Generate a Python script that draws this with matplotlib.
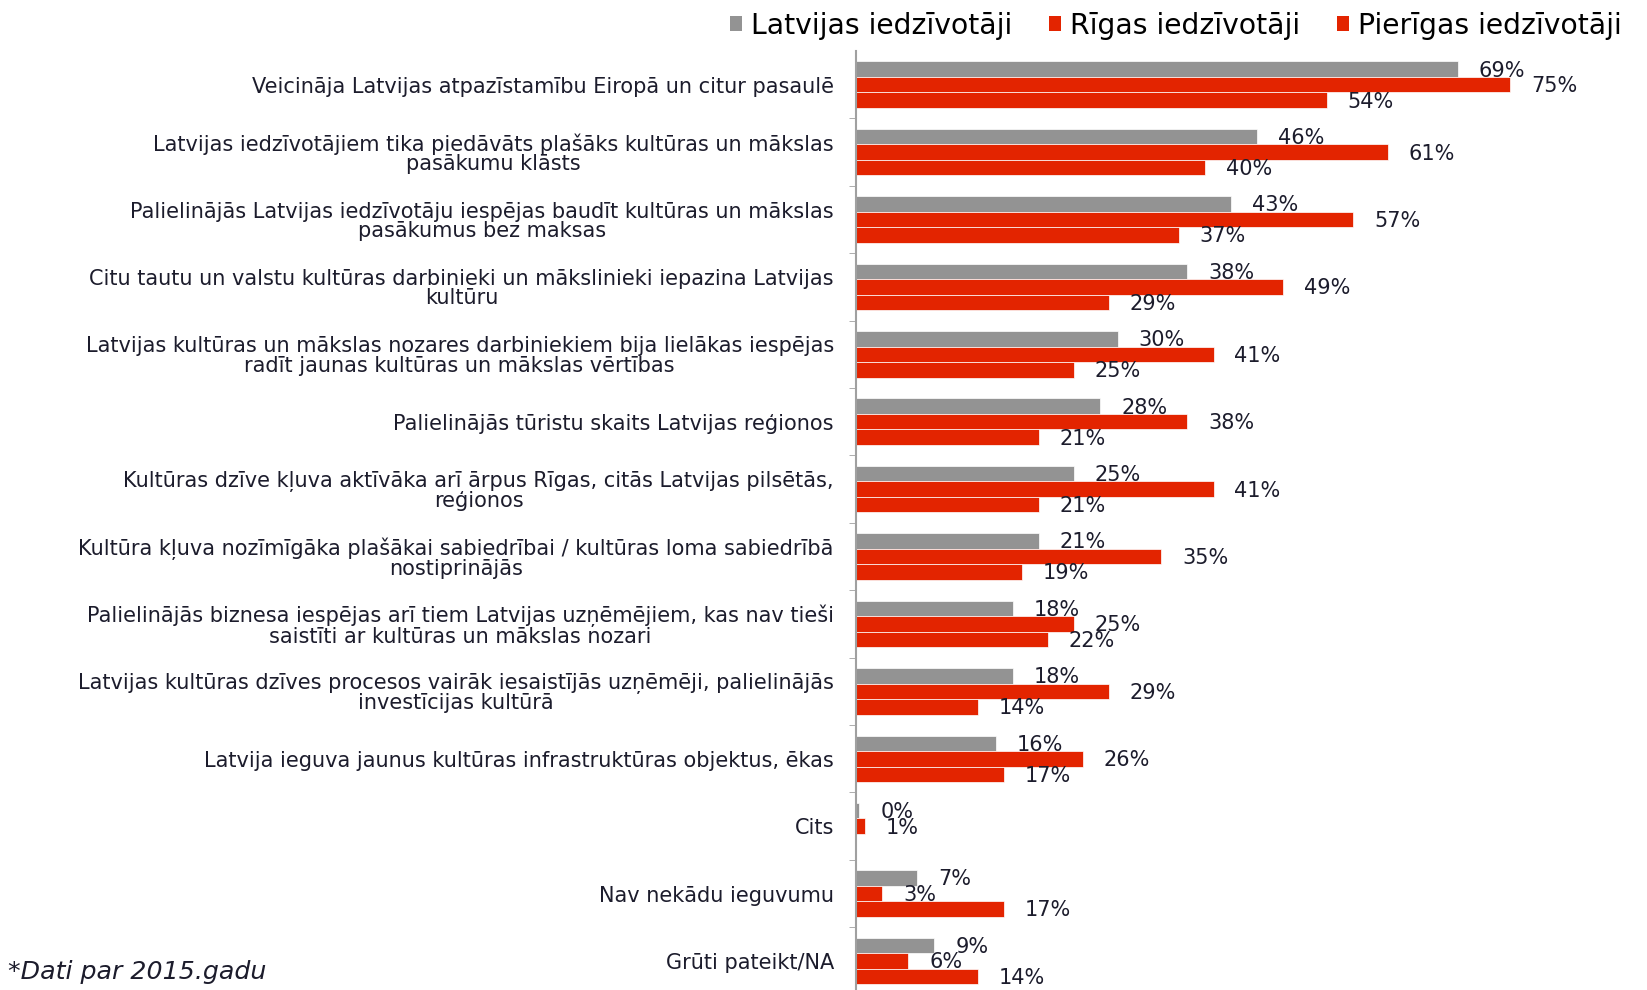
import numpy as np
import matplotlib.pyplot as plt
from matplotlib.patches import Patch

# Data
categories = [
    "Veicināja Latvijas atpazīstamību Eiropā un citur pasaulē",
    "Latvijas iedzīvotājiem tika piedāvāts plašāks kultūras un mākslas\npasākumu klāsts",
    "Palielinājās Latvijas iedzīvotāju iespējas baudīt kultūras un mākslas\npasākumus bez maksas",
    "Citu tautu un valstu kultūras darbinieki un mākslinieki iepazina Latvijas\nkultūru",
    "Latvijas kultūras un mākslas nozares darbiniekiem bija lielākas iespējas\nradīt jaunas kultūras un mākslas vērtības",
    "Palielinājās tūristu skaits Latvijas reģionos",
    "Kultūras dzīve kļuva aktīvāka arī ārpus Rīgas, citās Latvijas pilsētās,\nreģionos",
    "Kultūra kļuva nozīmīgāka plašākai sabiedrībai / kultūras loma sabiedrībā\nnostiprinājās",
    "Palielinājās biznesa iespējas arī tiem Latvijas uzņēmējiem, kas nav tieši\nsaistīti ar kultūras un mākslas nozari",
    "Latvijas kultūras dzīves procesos vairāk iesaistījās uzņēmēji, palielinājās\ninvestīcijas kultūrā",
    "Latvija ieguva jaunus kultūras infrastruktūras objektus, ēkas",
    "Cits",
    "Nav nekādu ieguvumu",
    "Grūti pateikt/NA",
]
latvija = [69, 46, 43, 38, 30, 28, 25, 21, 18, 18, 16, 0.4, 7, 9]
riga = [75, 61, 57, 49, 41, 38, 41, 35, 25, 29, 26, 1, 3, 6]
pieriga = [54, 40, 37, 29, 25, 21, 21, 19, 22, 14, 17, np.nan, 17, 14]

series = [("Latvijas iedzīvotāji", latvija, "#939393"),
          ("Rīgas iedzīvotāji", riga, "#e32400"),
          ("Pierīgas iedzīvotāji", pieriga, "#e32400")]

W, H = 1647, 990
fig = plt.figure(figsize=(W / 100, H / 100), dpi=100)
ax = fig.add_axes([856 / W, 0, (W - 856) / W, 939 / H])

y = np.arange(len(categories))
h = 0.23
for k, (name, vals, col) in enumerate(series):
    pos = y + (k - 1) * h
    ax.barh(pos, vals, height=h, color=col, edgecolor="white", linewidth=0.5)
    for p, v in zip(pos, vals):
        if np.isnan(v):
            continue
        ax.annotate(f"{v:.0f}%", (v, p), xytext=(15, -1), textcoords="offset points",
                    va="center", ha="left", fontsize=15, color="#1c1c2c")

ax.set_xlim(0, 90.7)
ax.set_ylim(13.43, -0.5)
ax.set_yticks(y)
ax.set_yticklabels(categories, fontsize=15, color="#1c1c2c",
                   multialignment="center", linespacing=0.97)
ax.set_yticks(np.arange(len(categories) - 1) + 0.5, minor=True)
ax.tick_params(axis="y", which="major", length=0, pad=16)
ax.tick_params(axis="y", which="minor", length=5, color="#a0a0a0", direction="out")
ax.set_xticks([])
for s in ["top", "right", "bottom"]:
    ax.spines[s].set_visible(False)
ax.spines["left"].set_color("#a0a0a0")
ax.spines["left"].set_linewidth(1.5)

handles = [Patch(facecolor=c, label=n) for n, _, c in series]
fig.legend(handles=handles, loc="upper right", bbox_to_anchor=(1.0, 1.014), ncol=3,
           frameon=False, fontsize=20.3, handlelength=0.45, handleheight=0.45,
           handletextpad=0.3, columnspacing=1.3)

fig.text(8 / W, 1 - 972 / H, "*Dati par 2015.gadu", fontsize=18.2, style="italic",
         va="center", ha="left", color="#1c1c2c")

fig.savefig("out.png", dpi=100)
